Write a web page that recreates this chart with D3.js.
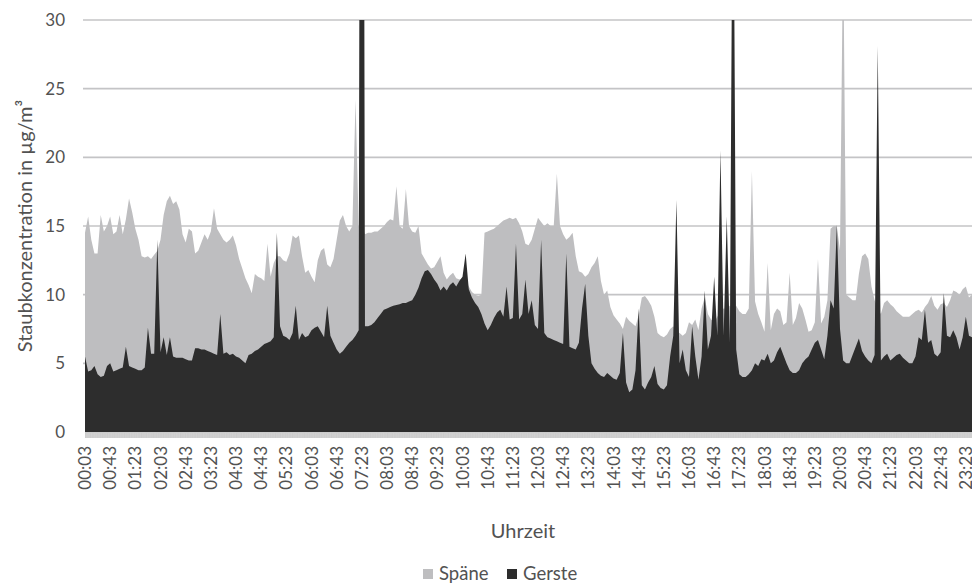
<!DOCTYPE html>
<html>
<head>
<meta charset="utf-8">
<script src="https://cdn.jsdelivr.net/npm/d3@7"></script>
<style>
  body { margin: 0; background: #fff; }
  svg { display: block; }
  text { font-family: Lato, "Open Sans", sans-serif; fill: #525252; }
</style>
</head>
<body>
<svg id="chart" width="972" height="583"></svg>
<script>
// Dust concentration, sampled every 5 minutes starting at 00:03
const startMinute = 3;
const stepMinutes = 5;

// Späne (wood shavings), µg/m³, one row per hour
const spaene = [
  14.5, 15.7, 14.0, 13.0, 13.0, 15.8, 14.6, 15.0, 15.7, 14.4, 14.6, 15.8,
  14.4, 15.5, 17.0, 16.0, 14.8, 14.0, 12.8, 12.7, 12.8, 12.6, 12.9, 13.2,
  14.0, 15.8, 16.8, 17.2, 16.6, 16.8, 16.2, 14.4, 13.8, 14.8, 14.6, 13.0,
  13.2, 13.8, 14.4, 14.0, 14.6, 16.3, 14.8, 14.4, 14.0, 13.8, 14.0, 14.3,
  13.6, 12.6, 11.9, 11.2, 10.7, 10.1, 11.5, 11.3, 11.2, 11.0, 13.7, 11.3,
  12.3, 12.8, 12.8, 12.5, 12.4, 13.0, 14.3, 14.1, 14.3, 12.8, 11.6, 11.8,
  11.3, 10.9, 12.5, 13.2, 13.4, 12.2, 12.0, 12.6, 14.0, 15.4, 15.8, 15.0,
  14.6, 15.0, 24.2, 15.0, 15.0, 14.4, 14.5, 14.5, 14.6, 14.6, 14.8, 15.0,
  15.3, 15.5, 15.4, 17.9, 15.0, 14.8, 17.7, 15.0, 14.6, 14.5, 15.0, 13.0,
  12.6, 12.2, 11.9, 12.0, 12.4, 12.8, 11.6, 11.1, 11.4, 11.6, 11.2, 11.1,
  11.2, 11.0, 10.6, 10.2, 10.0, 9.9, 10.0, 14.5, 14.6, 14.7, 14.8, 15.0,
  15.2, 15.4, 15.5, 15.6, 15.5, 15.6, 15.2, 14.6, 13.7, 13.6, 14.0, 14.8,
  15.6, 15.3, 15.0, 15.2, 15.0, 15.0, 18.8, 15.0, 14.4, 14.0, 14.2, 14.5,
  12.8, 11.7, 11.6, 11.3, 11.5, 12.0, 12.3, 12.8, 11.0, 10.0, 10.3, 9.1,
  8.5, 8.2, 7.9, 7.5, 8.4, 8.1, 7.9, 7.7, 8.5, 9.8, 9.9, 9.6,
  9.2, 8.4, 7.2, 7.0, 6.9, 7.1, 7.5, 7.7, 7.3, 7.2, 7.0, 7.2,
  8.0, 7.8, 8.2, 7.4, 9.0, 9.8, 8.6, 8.2, 8.0, 8.4, 8.8, 9.0,
  9.0, 9.2, 9.0, 9.2, 8.8, 8.6, 8.6, 9.0, 19.0, 9.5, 8.6, 8.0,
  7.3, 12.3, 7.4, 8.6, 9.0, 8.8, 7.8, 8.0, 11.6, 7.8, 8.3, 9.4,
  9.0, 8.2, 7.3, 7.4, 8.0, 12.6, 7.9, 8.4, 9.6, 14.8, 15.0, 15.0,
  13.2, 36.0, 10.0, 9.8, 9.6, 9.6, 11.5, 12.8, 13.0, 12.6, 10.6, 9.6,
  9.0, 8.6, 9.4, 9.6, 9.3, 9.1, 8.8, 8.6, 8.4, 8.4, 8.4, 8.6,
  8.8, 8.9, 8.7, 9.1, 9.4, 9.9, 9.2, 8.9, 9.3, 9.4, 9.1, 9.6,
  10.3, 10.2, 10.0, 10.4, 10.6, 9.8, 10.0, 10.2
];

// Gerste (barley), µg/m³, one row per hour
const gerste = [
  5.5, 4.4, 4.5, 4.8, 4.2, 4.0, 4.1, 4.8, 5.0, 4.4, 4.5, 4.6,
  4.7, 6.2, 4.8, 4.7, 4.6, 4.5, 4.5, 4.7, 7.6, 5.7, 5.7, 14.0,
  5.8, 6.9, 5.6, 6.9, 5.5, 5.4, 5.4, 5.4, 5.3, 5.2, 5.2, 6.1,
  6.1, 6.0, 6.0, 5.9, 5.8, 5.7, 5.6, 8.6, 5.7, 5.8, 5.6, 5.7,
  5.5, 5.4, 5.2, 5.0, 5.6, 5.7, 5.9, 6.0, 6.2, 6.4, 6.5, 6.6,
  6.9, 14.5, 7.7, 7.0, 6.9, 6.7, 7.2, 9.2, 6.7, 7.2, 6.9, 7.0,
  7.4, 7.6, 7.7, 7.3, 6.9, 9.2, 7.0, 6.5, 6.0, 5.7, 5.9, 6.2,
  6.5, 6.7, 7.0, 7.4, 120.0, 7.7, 7.7, 7.8, 8.0, 8.3, 8.6, 8.9,
  9.0, 9.1, 9.2, 9.25, 9.3, 9.4, 9.4, 9.5, 9.6, 10.0, 10.5, 11.2,
  11.7, 11.8, 11.5, 11.1, 10.8, 10.3, 10.6, 10.3, 10.7, 10.9, 10.6, 11.0,
  11.3, 13.0, 10.4, 9.8, 9.4, 9.1, 8.6, 7.9, 7.4, 7.8, 8.3, 8.7,
  8.9, 8.4, 10.6, 8.2, 8.3, 13.7, 8.2, 8.6, 11.1, 8.6, 9.6, 7.8,
  7.5, 14.0, 7.2, 6.9, 6.8, 6.7, 6.6, 6.5, 6.4, 13.0, 6.2, 6.1,
  6.0, 6.5, 9.0, 10.8, 7.0, 5.0, 4.6, 4.3, 4.1, 4.0, 4.3, 4.1,
  3.9, 3.8, 4.3, 7.2, 3.6, 2.9, 3.1, 4.5, 9.0, 3.4, 3.1, 3.6,
  4.0, 4.8, 3.5, 3.2, 3.1, 3.4, 5.5, 7.0, 16.9, 5.0, 6.0, 4.5,
  4.0, 7.7, 5.5, 3.8, 5.5, 10.3, 6.0, 7.0, 11.3, 7.0, 20.5, 7.0,
  15.7, 6.5, 48.0, 6.0, 4.2, 4.0, 4.0, 4.2, 4.5, 5.0, 4.8, 5.3,
  5.2, 5.7, 5.0, 5.2, 5.8, 6.2, 5.6, 5.0, 4.5, 4.3, 4.3, 4.5,
  5.0, 5.3, 5.5, 6.0, 6.5, 6.7, 6.0, 5.3, 7.0, 9.6, 9.0, 15.1,
  7.5, 5.2, 5.0, 5.0, 5.6, 6.2, 6.8, 5.9, 5.5, 5.2, 5.0, 5.6,
  28.1, 5.2, 5.5, 5.7, 5.2, 5.4, 5.6, 5.7, 5.4, 5.2, 5.0, 5.0,
  5.5, 6.9, 6.7, 8.9, 6.5, 6.7, 5.7, 5.5, 5.8, 10.1, 7.0, 6.9,
  7.4, 6.9, 6.0, 6.9, 8.4, 7.0, 6.9, 7.2
];

const seriesNames = ["Späne", "Gerste"];
const seriesColors = ["#bebec0", "#2d2d2d"];
const yTicks = [0, 5, 10, 15, 20, 25, 30];
const xTickLabels = [
  "00:03", "00:43", "01:23", "02:03", "02:43", "03:23", "04:03", "04:43",
  "05:23", "06:03", "06:43", "07:23", "08:03", "08:43", "09:23", "10:03",
  "10:43", "11:23", "12:03", "12:43", "13:23", "14:03", "14:43", "15:23",
  "16:03", "16:43", "17:23", "18:03", "18:43", "19:23", "20:03", "20:43",
  "21:23", "22:03", "22:43", "23:23"
];
const yTitle = "Staubkonzentration in µg/m³";
const xTitle = "Uhrzeit";

const toMinutes = s => { const [h, m] = s.split(":").map(Number); return h * 60 + m; };

const svg = d3.select("#chart");
const plot = { left: 85, top: 20, bottom: 432, right: 972 };

const x = d3.scaleLinear().domain([3, 1443]).range([85, 991]);
const y = d3.scaleLinear().domain([0, 30]).range([plot.bottom, plot.top]);

svg.append("defs").append("clipPath").attr("id", "plotClip")
  .append("rect")
  .attr("x", plot.left).attr("y", plot.top)
  .attr("width", plot.right - plot.left).attr("height", plot.bottom - plot.top);

// Horizontal gridlines
svg.append("g")
  .selectAll("line").data(yTicks.filter(d => d > 0)).join("line")
  .attr("x1", 83).attr("x2", plot.right)
  .attr("y1", d => y(d)).attr("y2", d => y(d))
  .attr("stroke", "#c4c4c6").attr("stroke-width", 1.6);

// Areas drawn from zero: Späne behind, Gerste in front
const series = [spaene, gerste];
const area = d3.area()
  .x((d, i) => x(startMinute + i * stepMinutes))
  .y0(y(0))
  .y1(d => y(d));

svg.append("g").attr("clip-path", "url(#plotClip)")
  .selectAll("path").data(series).join("path")
  .attr("d", d => area(d))
  .attr("fill", (d, i) => seriesColors[i]);

// Category axis: one tick per minute forms a light band
const minuteTicks = d3.range(3, 1443, 1);
svg.append("g")
  .attr("transform", `translate(0,${plot.bottom})`)
  .call(d3.axisBottom(x).tickValues(minuteTicks).tickSize(6).tickFormat(""))
  .call(g => g.select(".domain").attr("stroke", "#c8c8c8"))
  .call(g => g.selectAll(".tick line").attr("stroke", "#cdcdcd").attr("stroke-width", 1));

// Rotated time labels
svg.append("g")
  .selectAll("text").data(xTickLabels).join("text")
  .attr("transform", d => `translate(${x(toMinutes(d))},446) rotate(-90)`)
  .attr("text-anchor", "end")
  .attr("dy", "0.36em")
  .style("font-size", "17px")
  .text(d => d);

// Value axis labels
svg.append("g")
  .selectAll("text").data(yTicks).join("text")
  .attr("x", 65).attr("y", d => y(d))
  .attr("text-anchor", "end")
  .attr("dy", "0.35em")
  .style("font-size", "17px")
  .text(d => d);

// Axis titles
svg.append("text")
  .attr("transform", "translate(25,226) rotate(-90)")
  .attr("text-anchor", "middle")
  .attr("dy", "0.35em")
  .style("font-size", "20px")
  .text(yTitle);

svg.append("text")
  .attr("x", 523).attr("y", 538)
  .attr("text-anchor", "middle")
  .style("font-size", "20px")
  .text(xTitle);

// Legend
const legendItems = [{ x: 423 }, { x: 507 }];
const legend = svg.append("g").selectAll("g").data(seriesNames).join("g")
  .attr("transform", (d, i) => `translate(${legendItems[i].x},569)`);
legend.append("rect").attr("width", 10).attr("height", 10)
  .attr("fill", (d, i) => seriesColors[i]);
legend.append("text").attr("x", 16).attr("y", 11)
  .style("font-size", "18.5px")
  .text(d => d);
</script>
</body>
</html>
